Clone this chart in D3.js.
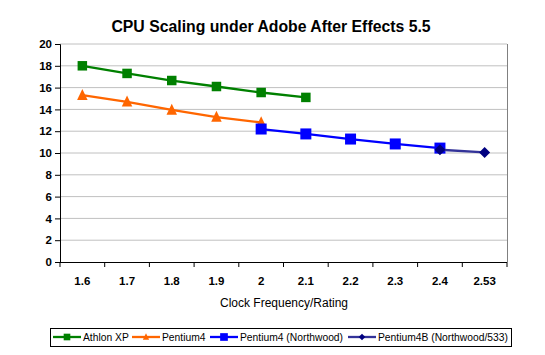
<!DOCTYPE html>
<html><head><meta charset="utf-8">
<script src="https://cdn.jsdelivr.net/npm/d3@7"></script>
<style>body{margin:0;background:#fff}svg{display:block;font-family:"Liberation Sans",Arial,sans-serif}</style>
</head><body><svg id="c" width="545" height="355"></svg>
<script>
const categories = ["1.6","1.7","1.8","1.9","2","2.1","2.2","2.3","2.4","2.53"];
const athlonXP = [18.0,17.3,16.65,16.1,15.55,15.1,null,null,null,null];
const pentium4 = [15.3,14.7,13.95,13.3,12.8,null,null,null,null,null];
const pentium4Northwood = [null,null,null,null,12.2,11.75,11.28,10.83,10.45,null];
const pentium4B = [null,null,null,null,null,null,null,null,10.3,10.05];
const yTicks = [0,2,4,6,8,10,12,14,16,18,20];
const seriesNames = ["Athlon XP","Pentium4","Pentium4 (Northwood)","Pentium4B (Northwood/533)"];

const series = [
  {name:seriesNames[0], values:athlonXP, line:"#008000", fill:"#008000", marker:"square", size:9.5},
  {name:seriesNames[1], values:pentium4, line:"#FF6600", fill:"#FF6600", marker:"triangle", size:10.5},
  {name:seriesNames[2], values:pentium4Northwood, line:"#0000FF", fill:"#0000FF", marker:"square", size:11},
  {name:seriesNames[3], values:pentium4B, line:"#333399", fill:"#000080", marker:"diamond", size:11}
];

const svg = d3.select("#c");
const L=60, R=507, T=44, B=262;
const x = d3.scaleBand().domain(categories).range([L,R]).padding(0);
const y = d3.scaleLinear().domain([0,20]).range([B,T]);
const cx = c => x(c)+x.bandwidth()/2;

// title
svg.append("text").attr("x",271).attr("y",32).attr("text-anchor","middle")
  .attr("font-size",15.8).attr("font-weight","bold").text("CPU Scaling under Adobe After Effects 5.5");

// gridlines
svg.append("g").selectAll("line").data(yTicks.filter(d=>d>0)).join("line")
  .attr("x1",L).attr("x2",R).attr("y1",d=>y(d)).attr("y2",d=>y(d))
  .attr("stroke","#c0c0c0").attr("stroke-width",1);
// right border
svg.append("line").attr("x1",R+0.5).attr("x2",R+0.5).attr("y1",T).attr("y2",B)
  .attr("stroke","#808080").attr("stroke-width",1);

// y axis
const yAxis = d3.axisLeft(y).tickValues(yTicks).tickSize(5).tickPadding(3);
const gy = svg.append("g").attr("transform",`translate(${L},0)`).call(yAxis);
gy.attr("font-family",null).attr("font-size",null);
gy.selectAll("text").attr("font-size",11.5).attr("font-weight","bold").attr("fill","#000");
gy.selectAll("line,path").attr("stroke","#000");

// x axis: ticks at band boundaries
const gx = svg.append("g");
gx.append("line").attr("x1",L).attr("x2",R).attr("y1",B+0.5).attr("y2",B+0.5).attr("stroke","#000");
const edges = categories.map(c=>x(c)).concat([R]);
gx.selectAll("line.t").data(edges).join("line").attr("class","t")
  .attr("x1",d=>d).attr("x2",d=>d).attr("y1",B).attr("y2",B+5).attr("stroke","#000");
gx.selectAll("text").data(categories).join("text")
  .attr("x",d=>cx(d)).attr("y",285).attr("text-anchor","middle")
  .attr("font-size",11.5).attr("font-weight","bold").text(d=>d);
svg.append("text").attr("x",284).attr("y",307).attr("text-anchor","middle")
  .attr("font-size",12).text("Clock Frequency/Rating");

// marker shapes
function markerPath(type,s){
  if(type==="square") return d3.symbol(d3.symbolSquare, s*s)();
  if(type==="triangle") return `M0,${-s*0.6}L${s/2},${s*0.45}L${-s/2},${s*0.45}Z`;
  if(type==="diamond") return `M0,${-s/2}L${s/2},0L0,${s/2}L${-s/2},0Z`;
}

const line = d3.line().defined(d=>d.v!=null).x(d=>cx(d.c)).y(d=>y(d.v));
series.forEach(s=>{
  const pts = categories.map((c,i)=>({c, v:s.values[i]}));
  const g = svg.append("g");
  g.append("path").datum(pts).attr("d",line).attr("fill","none")
    .attr("stroke",s.line).attr("stroke-width",2.3);
  g.selectAll("path.m").data(pts.filter(d=>d.v!=null)).join("path").attr("class","m")
    .attr("transform",d=>`translate(${cx(d.c)},${y(d.v)})`)
    .attr("d",markerPath(s.marker,s.size)).attr("fill",s.fill);
});

// legend
const lg = svg.append("g");
lg.append("rect").attr("x",50.5).attr("y",328.5).attr("width",461).attr("height",18)
  .attr("fill","#fff").attr("stroke","#000");
const lx = [53,132,210,348];
series.forEach((s,i)=>{
  const g = lg.append("g").attr("transform",`translate(${lx[i]},337)`);
  g.append("line").attr("x1",0).attr("x2",28).attr("stroke",s.line).attr("stroke-width",2.3);
  g.append("path").attr("transform","translate(14,0)")
    .attr("d",markerPath(s.marker,s.marker==="square"?s.size*0.7:s.size*0.6)).attr("fill",s.fill);
  g.append("text").attr("x",30).attr("y",3.5).attr("font-size",10.3).text(s.name);
});
</script></body></html>
